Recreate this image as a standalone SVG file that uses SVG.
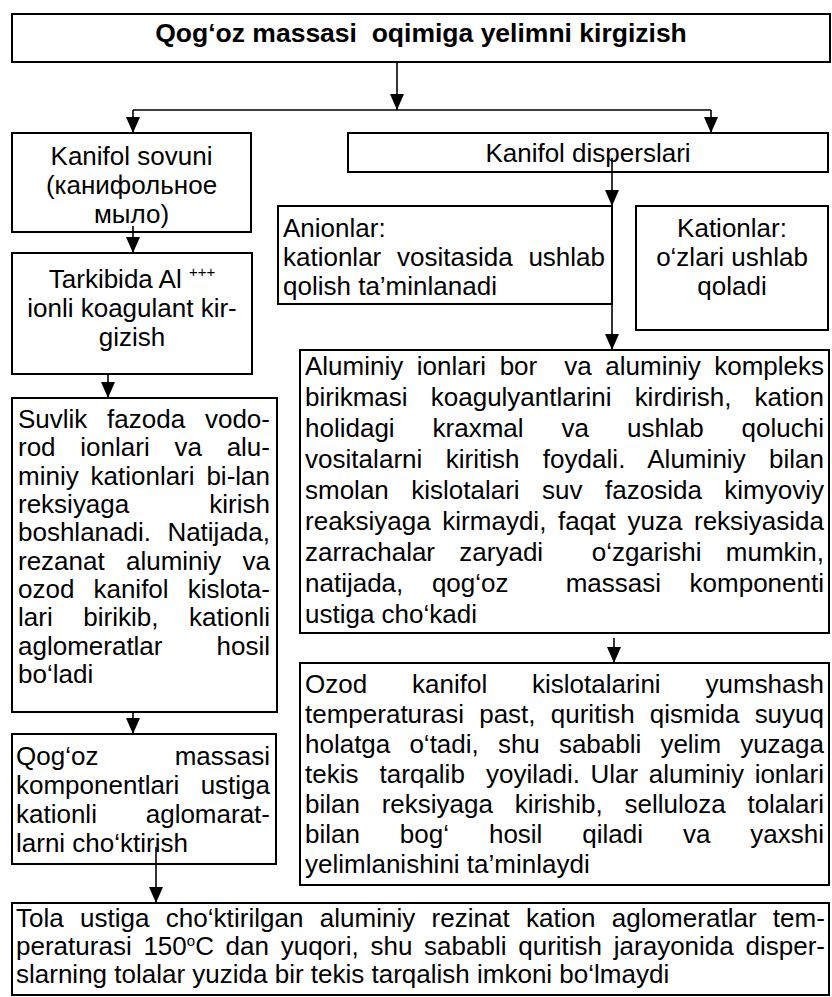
<svg xmlns="http://www.w3.org/2000/svg" width="832" height="997" viewBox="0 0 832 997">
<style>
.t{font-family:"Liberation Sans",Arial,"DejaVu Sans",sans-serif;font-size:26px;fill:#000}
.b{font-weight:bold;font-size:26.5px}
.c{text-anchor:middle}
.box{fill:#fff;stroke:#000;stroke-width:2}
.ln{stroke:#000;stroke-width:1.6;fill:none}
.arr{marker-end:url(#ah)}
</style>
<defs>
<marker id="ah" markerUnits="userSpaceOnUse" markerWidth="16" markerHeight="14" refX="16" refY="7" orient="auto">
<path d="M0,0 L16,7 L0,14 Z" fill="#000"/>
</marker>
</defs>
<rect width="832" height="997" fill="#fff"/>

<g id="n-title">
<rect class="box" x="12" y="14" width="818" height="48"/>
<text class="t b c" x="421" y="42" xml:space="preserve">Qog‘oz massasi  oqimiga yelimni kirgizish</text>
</g>

<g id="n-sovun">
<rect class="box" x="12" y="133" width="239" height="99"/>
<text class="t c" x="131.5" y="165">Kanifol sovuni</text>
<text class="t c" x="131.5" y="194">(канифольное</text>
<text class="t c" x="131.5" y="223">мыло)</text>
</g>

<g id="n-tarkib">
<rect class="box" x="12" y="253" width="240" height="121"/>
<text class="t c" x="132" y="288">Tarkibida Al <tspan font-size="15" dy="-11">+++</tspan></text>
<text class="t c" x="132" y="317">ionli koagulant kir-</text>
<text class="t c" x="132" y="346">gizish</text>
</g>

<g id="n-suvlik">
<rect class="box" x="12" y="398" width="265" height="314"/>
<text class="t" x="18" y="428" word-spacing="12.56" textLength="252" lengthAdjust="spacing">Suvlik fazoda vodo-</text>
<text class="t" x="18" y="456" word-spacing="17.54" textLength="252" lengthAdjust="spacing">rod ionlari va alu-</text>
<text class="t" x="18" y="485" word-spacing="4.65" textLength="252" lengthAdjust="spacing">miniy kationlari bi-lan</text>
<text class="t" x="18" y="513" word-spacing="72.86" textLength="252" lengthAdjust="spacing">reksiyaga kirish</text>
<text class="t" x="18" y="541" word-spacing="9.21" textLength="252" lengthAdjust="spacing">boshlanadi. Natijada,</text>
<text class="t" x="18" y="570" word-spacing="14.02" textLength="252" lengthAdjust="spacing">rezanat aluminiy va</text>
<text class="t" x="18" y="598" word-spacing="11.85" textLength="252" lengthAdjust="spacing">ozod kanifol kislota-</text>
<text class="t" x="18" y="626" word-spacing="23.43" textLength="252" lengthAdjust="spacing">lari birikib, kationli</text>
<text class="t" x="18" y="655" word-spacing="46.83" textLength="252" lengthAdjust="spacing">aglomeratlar hosil</text>
<text class="t" x="18" y="683">bo‘ladi</text>
</g>

<g id="n-qogoz">
<rect class="box" x="12" y="734" width="264" height="130"/>
<text class="t" x="16" y="765" word-spacing="69.06" textLength="254" lengthAdjust="spacing">Qog‘oz massasi</text>
<text class="t" x="16" y="794" word-spacing="14.12" textLength="254" lengthAdjust="spacing">komponentlari ustiga</text>
<text class="t" x="16" y="823" word-spacing="41.6" textLength="254" lengthAdjust="spacing">kationli aglomarat-</text>
<text class="t" x="16" y="852">larni cho‘ktirish</text>
</g>

<g id="n-dispers">
<rect class="box" x="348" y="133" width="480" height="39"/>
<text class="t c" x="588" y="162">Kanifol disperslari</text>
</g>

<g id="n-anion">
<rect class="box" x="278" y="206" width="334" height="98"/>
<text class="t" x="283" y="237">Anionlar:</text>
<text class="t" x="283" y="266" word-spacing="8.55" textLength="322" lengthAdjust="spacing">kationlar vositasida ushlab</text>
<text class="t" x="283" y="295">qolish ta’minlanadi</text>
</g>

<g id="n-kation">
<rect class="box" x="636" y="206" width="192" height="124"/>
<text class="t c" x="732" y="237">Kationlar:</text>
<text class="t c" x="732" y="266">o‘zlari ushlab</text>
<text class="t c" x="732" y="295">qoladi</text>
</g>

<g id="n-alumin">
<rect class="box" x="300" y="350" width="529" height="283"/>
<text class="t" x="305" y="375" xml:space="preserve" word-spacing="6.31" textLength="519" lengthAdjust="spacing">Aluminiy ionlari bor  va aluminiy kompleks</text>
<text class="t" x="305" y="406" word-spacing="16.0" textLength="519" lengthAdjust="spacing">birikmasi koagulyantlarini kirdirish, kation</text>
<text class="t" x="305" y="437" word-spacing="30.77" textLength="519" lengthAdjust="spacing">holidagi kraxmal va ushlab qoluchi</text>
<text class="t" x="305" y="468" word-spacing="15.97" textLength="519" lengthAdjust="spacing">vositalarni kiritish foydali. Aluminiy bilan</text>
<text class="t" x="305" y="499" word-spacing="15.25" textLength="519" lengthAdjust="spacing">smolan kislotalari suv fazosida kimyoviy</text>
<text class="t" x="305" y="530" word-spacing="4.40" textLength="519" lengthAdjust="spacing">reaksiyaga kirmaydi, faqat yuza reksiyasida</text>
<text class="t" x="305" y="561" xml:space="preserve" word-spacing="17.06" textLength="519" lengthAdjust="spacing">zarrachalar zaryadi  o‘zgarishi mumkin,</text>
<text class="t" x="305" y="592" xml:space="preserve" word-spacing="21.37" textLength="519" lengthAdjust="spacing">natijada, qog‘oz  massasi komponenti</text>
<text class="t" x="305" y="623">ustiga cho‘kadi</text>
</g>

<g id="n-ozod">
<rect class="box" x="300" y="663" width="529" height="222"/>
<text class="t" x="305" y="693" word-spacing="37.66" textLength="519" lengthAdjust="spacing">Ozod kanifol kislotalarini yumshash</text>
<text class="t" x="305" y="723" word-spacing="8.01" textLength="519" lengthAdjust="spacing">temperaturasi past, quritish qismida suyuq</text>
<text class="t" x="305" y="753" word-spacing="11.89" textLength="519" lengthAdjust="spacing">holatga o‘tadi, shu sababli yelim yuzaga</text>
<text class="t" x="305" y="783" xml:space="preserve" word-spacing="3.35" textLength="519" lengthAdjust="spacing">tekis  tarqalib  yoyiladi. Ular aluminiy ionlari</text>
<text class="t" x="305" y="813" word-spacing="14.52" textLength="519" lengthAdjust="spacing">bilan reksiyaga kirishib, selluloza tolalari</text>
<text class="t" x="305" y="843" word-spacing="32.71" textLength="519" lengthAdjust="spacing">bilan bog‘ hosil qiladi va yaxshi</text>
<text class="t" x="305" y="873">yelimlanishini ta’minlaydi</text>
</g>

<g id="n-tola">
<rect class="box" x="12" y="903" width="817" height="92"/>
<text class="t" x="16" y="927" word-spacing="8.86" textLength="809" lengthAdjust="spacing">Tola ustiga cho‘ktirilgan aluminiy rezinat kation aglomeratlar tem-</text>
<text class="t" x="16" y="955" word-spacing="4.45" textLength="809" lengthAdjust="spacing">peraturasi 150<tspan font-size="15" dy="-9">o</tspan><tspan dy="9">C dan yuqori, shu sababli quritish jarayonida disper-</tspan></text>
<text class="t" x="16" y="983">slarning tolalar yuzida bir tekis tarqalish imkoni bo‘lmaydi</text>
</g>

<g id="connectors">
<line class="ln arr" x1="397" y1="62" x2="397" y2="110"/>
<line class="ln" x1="133" y1="110" x2="711" y2="110"/>
<line class="ln arr" x1="133" y1="110" x2="133" y2="133"/>
<line class="ln arr" x1="711" y1="110" x2="711" y2="133"/>
<line class="ln arr" x1="133" y1="226" x2="133" y2="253"/>
<line class="ln arr" x1="108" y1="374" x2="108" y2="398"/>
<line class="ln arr" x1="133" y1="712" x2="133" y2="734"/>
<line class="ln arr" x1="156" y1="847" x2="156" y2="903"/>
<line class="ln arr" x1="612" y1="158" x2="612" y2="206"/>
<line class="ln arr" x1="612" y1="206" x2="612" y2="350"/>
<line class="ln arr" x1="614" y1="638" x2="614" y2="663"/>
</g>
</svg>
